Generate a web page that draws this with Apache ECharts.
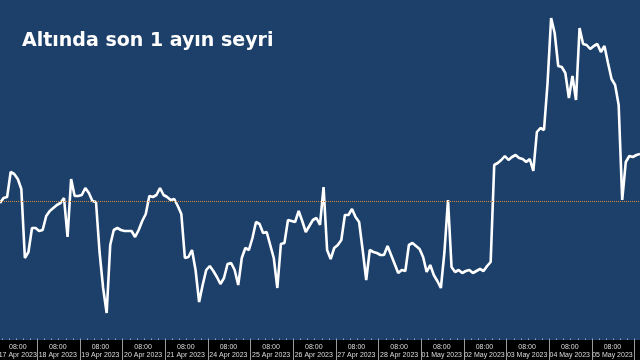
<!DOCTYPE html>
<html>
<head>
<meta charset="utf-8">
<script src="https://cdn.jsdelivr.net/npm/echarts@6/dist/echarts.min.js"></script>
<style>
html,body{margin:0;padding:0;background:#000;}
#chart{width:640px;height:360px;}
</style>
</head>
<body>
<div id="chart"></div>
<script>
// ---- data ----
const titleText = 'Altında son 1 ayın seyri';
const startHour = 3;      // first sample: 17 Apr 2023 03:00 (trading-day hours, weekends skipped)
const stepHours = 2;      // one sample every 2 hours
const goldValues = [
  2008.8, 2010.8, 2011.2, 2021.2, 2020.4, 2018.4, 2014.4, 1986.8, 1989.2, 1998.8,
  1998.8, 1997.6, 1998.0, 2003.6, 2005.6, 2006.8, 2008.0, 2008.8, 2010.8, 1995.2,
  2018.4, 2011.6, 2011.6, 2012.0, 2014.8, 2012.8, 2009.6, 2009.2, 1989.2, 1974.8,
  1964.8, 1992.0, 1998.0, 1998.8, 1998.0, 1997.6, 1997.6, 1997.6, 1995.2, 1998.0,
  2001.6, 2004.4, 2011.6, 2011.2, 2012.0, 2014.8, 2012.0, 2011.2, 2010.0, 2010.4,
  2007.6, 2004.4, 1986.8, 1987.2, 1990.0, 1982.0, 1969.2, 1976.0, 1982.0, 1983.6,
  1981.6, 1979.2, 1976.4, 1978.8, 1984.4, 1984.8, 1982.0, 1976.0, 1986.8, 1990.8,
  1990.0, 1994.8, 2001.2, 2000.4, 1996.8, 1997.2, 1992.0, 1986.8, 1974.8, 1992.4,
  1992.8, 2002.0, 2001.6, 2001.2, 2005.6, 2001.6, 1997.2, 1999.6, 2002.0, 2002.8,
  2000.0, 2015.2, 1990.0, 1986.4, 1990.8, 1992.0, 1994.0, 2004.0, 2004.0, 2006.4,
  2003.2, 2001.2, 1990.0, 1978.0, 1990.0, 1989.2, 1988.8, 1988.0, 1988.0, 1991.6,
  1988.0, 1984.4, 1980.8, 1982.0, 1981.6, 1992.0, 1992.8, 1991.6, 1990.4, 1987.2,
  1981.2, 1984.0, 1980.0, 1977.6, 1974.8, 1989.2, 2010.0, 1983.2, 1981.2, 1982.0,
  1980.8, 1981.6, 1982.0, 1980.8, 1981.6, 1982.4, 1981.6, 1983.6, 1985.2, 2024.0,
  2024.8, 2026.0, 2027.6, 2026.0, 2027.2, 2028.0, 2026.8, 2026.4, 2025.2, 2026.4,
  2021.6, 2037.2, 2038.8, 2038.0, 2056.8, 2082.8, 2076.8, 2063.6, 2063.2, 2060.8,
  2050.8, 2059.6, 2050.0, 2078.8, 2072.4, 2072.0, 2070.4, 2071.6, 2072.4, 2069.2,
  2071.6, 2064.8, 2058.4, 2056.0, 2048.0, 2010.0, 2025.2, 2027.6, 2027.2, 2028.0, 2028.4
];
const dayLabels = [
  '17 Apr 2023','18 Apr 2023','19 Apr 2023','20 Apr 2023','21 Apr 2023',
  '24 Apr 2023','25 Apr 2023','26 Apr 2023','27 Apr 2023','28 Apr 2023',
  '01 May 2023','02 May 2023','03 May 2023','04 May 2023','05 May 2023','08 May 2023'
];
const timeLabel = '08:00';
const referenceLevel = 2009.4;

// ---- derived ----
const seriesData = goldValues.map((v, i) => [startHour + i * stepHours, v]);
const axisMin = 3, axisMax = 363;
const dayBounds = [];
for (let k = 1; k <= 15; k++) dayBounds.push(k * 24);
const labelPos = [];
for (let k = 0; k < dayLabels.length; k++) { const p = k * 24 + (k === 0 ? 13 : 11.5); if (p >= axisMin && p <= axisMax) labelPos.push(p); }
const minorPos = [];
for (let h = 4; h < axisMax; h += 4) if (h > axisMin) minorPos.push(h);

const chart = echarts.init(document.getElementById('chart'), null, {renderer: 'canvas'});
chart.setOption({
  animation: false,
  backgroundColor: '#000000',
  title: {
    text: titleText, left: 17, top: 27,
    textStyle: {color: '#ffffff', fontSize: 19, fontWeight: 'bold', fontFamily: 'DejaVu Sans'}
  },
  grid: {
    left: 0, right: 0, top: 0, bottom: 20, containLabel: false, outerBoundsMode: 'none',
    show: true, backgroundColor: '#1c406a', borderWidth: 0
  },
  xAxis: [{
    type: 'value', min: axisMin, max: axisMax,
    splitLine: {show: false},
    axisLine: {show: false},
    axisTick: {show: true, customValues: dayBounds, length: 20, inside: false, lineStyle: {color: '#9a9a9a', width: 1}},
    axisLabel: {
      show: true, customValues: labelPos, margin: 3, hideOverlap: false,
      color: '#dcdcdc', fontSize: 7, lineHeight: 8, fontFamily: 'Liberation Sans',
      formatter: v => timeLabel + '\n' + dayLabels[Math.floor(v / 24)]
    }
  }, {
    type: 'value', min: axisMin, max: axisMax, position: 'bottom',
    splitLine: {show: false}, axisLine: {show: false}, axisLabel: {show: false},
    axisTick: {show: true, customValues: minorPos, length: 1.5, inside: true, lineStyle: {color: '#8fa9c9', width: 1}}
  }],
  yAxis: {
    type: 'value', min: 1954, max: 2090, show: false, splitLine: {show: false}
  },
  series: [{
    type: 'line', xAxisIndex: 0, data: seriesData, showSymbol: false, symbol: 'none',
    lineStyle: {color: '#ffffff', width: 2.6}, z: 3,
    markLine: {
      silent: true, symbol: 'none', animation: false,
      label: {show: false},
      lineStyle: {type: [1, 1], color: '#d08c3c', width: 1},
      data: [{yAxis: referenceLevel}]
    }
  }]
});
</script>
</body>
</html>
